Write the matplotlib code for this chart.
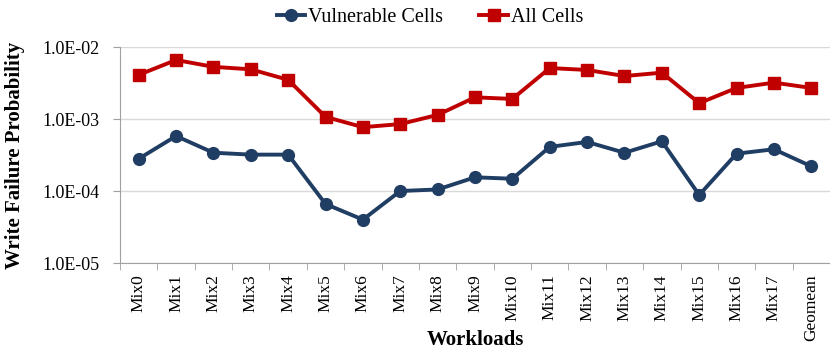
import matplotlib.pyplot as plt
from matplotlib.ticker import FixedLocator, NullLocator

workloads = ['Mix0', 'Mix1', 'Mix2', 'Mix3', 'Mix4', 'Mix5', 'Mix6', 'Mix7', 'Mix8', 'Mix9',
             'Mix10', 'Mix11', 'Mix12', 'Mix13', 'Mix14', 'Mix15', 'Mix16', 'Mix17', 'Geomean']
vulnerable = [2.8e-4, 5.8e-4, 3.4e-4, 3.2e-4, 3.2e-4, 6.6e-5, 4.0e-5, 1.0e-4, 1.05e-4, 1.55e-4,
              1.48e-4, 4.1e-4, 4.8e-4, 3.4e-4, 4.9e-4, 8.8e-5, 3.3e-4, 3.8e-4, 2.2e-4]
all_cells = [4.1e-3, 6.6e-3, 5.3e-3, 4.9e-3, 3.5e-3, 1.07e-3, 7.7e-4, 8.5e-4, 1.14e-3, 2.0e-3,
             1.9e-3, 5.1e-3, 4.8e-3, 3.95e-3, 4.4e-3, 1.66e-3, 2.7e-3, 3.2e-3, 2.7e-3]
yticks = [1e-5, 1e-4, 1e-3, 1e-2]
ytick_labels = ['1.0E-05', '1.0E-04', '1.0E-03', '1.0E-02']

plt.rcParams['font.family'] = ['Liberation Serif', 'DejaVu Serif']

fig = plt.figure(figsize=(8.3, 3.5), dpi=100)
ax = fig.add_axes([120 / 830, 1 - 263 / 350, 710 / 830, 216 / 350])

x = list(range(len(workloads)))
ax.plot(x, vulnerable, color='#203d64', marker='o', markersize=8.5, linewidth=2.8, label='Vulnerable Cells')
ax.plot(x, all_cells, color='#c00000', marker='s', markersize=8.5, linewidth=2.8, label='All Cells')

ax.set_yscale('log')
ax.set_ylim(1e-5, 1e-2)
ax.yaxis.set_major_locator(FixedLocator(yticks))
ax.yaxis.set_minor_locator(NullLocator())
ax.set_yticks(yticks)
ax.set_yticklabels(ytick_labels, fontsize=13)
ax.tick_params(axis='y', length=5, color='#a0a0a0', pad=10)

ax.set_xlim(-0.5, len(workloads) - 0.5)
ax.set_xticks(x)
ax.set_xticklabels(workloads, rotation=90, fontsize=12.5)
ax.set_xticks([i - 0.5 for i in range(len(workloads) + 1)], minor=True)
ax.tick_params(axis='x', which='major', length=0, pad=8)
ax.tick_params(axis='x', which='minor', length=5, color='#a0a0a0')

ax.grid(axis='y', color='#d9d9d9', linewidth=1)
ax.set_axisbelow(True)
for s in ['top', 'right']:
    ax.spines[s].set_visible(False)
for s in ['left', 'bottom']:
    ax.spines[s].set_color('#a0a0a0')

ax.set_xlabel('Workloads', fontsize=15, fontweight='bold')
ax.xaxis.set_label_coords(0.5, (263 - 340) / 216)
ax.xaxis.label.set_va('center')
ax.set_ylabel('Write Failure Probability', fontsize=15, fontweight='bold')
ax.yaxis.set_label_coords((15 - 120) / 710, 0.5)
ax.yaxis.label.set_va('center')

ax.legend(loc='center', bbox_to_anchor=(430 / 830, 1 - 17 / 350), bbox_transform=fig.transFigure,
          ncol=2, frameon=False, fontsize=14.5, handlelength=1.4, handletextpad=0.15, columnspacing=1.8,
          borderaxespad=0)

fig.savefig('out.png', dpi=100)
